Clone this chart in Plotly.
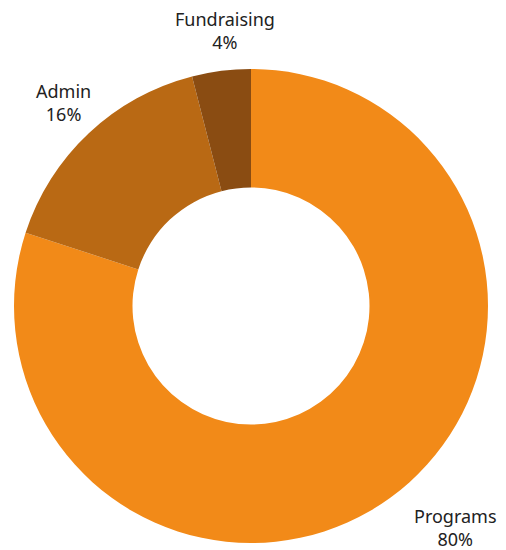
import plotly.graph_objects as go

labels = ["Programs", "Admin", "Fundraising"]
values = [80, 16, 4]
colors = ["#F28A18", "#B96914", "#8A4C12"]

# label anchor points (paper coords)
label_x = [455 / 506, 64 / 506, 225 / 506]
label_y = [1 - 527 / 550, 1 - 103 / 550, 1 - 30 / 550]

fig = go.Figure(go.Pie(
    labels=labels,
    values=values,
    hole=0.5,
    sort=False,
    direction="clockwise",
    rotation=0,
    marker=dict(colors=colors, line=dict(width=0)),
    textinfo="none",
    hoverinfo="label+percent",
    domain=dict(x=[14 / 506, 488 / 506], y=[1 - 543 / 550, 1 - 69 / 550]),
))

for lab, val, x, y in zip(labels, values, label_x, label_y):
    fig.add_annotation(
        x=x, y=y, xref="paper", yref="paper",
        text=f"{lab}<br>{val}%",
        showarrow=False,
        xanchor="center", yanchor="middle",
        font=dict(family="Noto Sans", size=18, color="#222222"),
    )

fig.update_layout(
    width=506, height=550,
    showlegend=False,
    margin=dict(l=0, r=0, t=0, b=0),
    paper_bgcolor="white",
    plot_bgcolor="white",
)

fig.write_html(
    "out.html",
    config={"displayModeBar": False},
    post_script="document.body.style.margin='0';document.body.style.overflow='hidden';",
)
